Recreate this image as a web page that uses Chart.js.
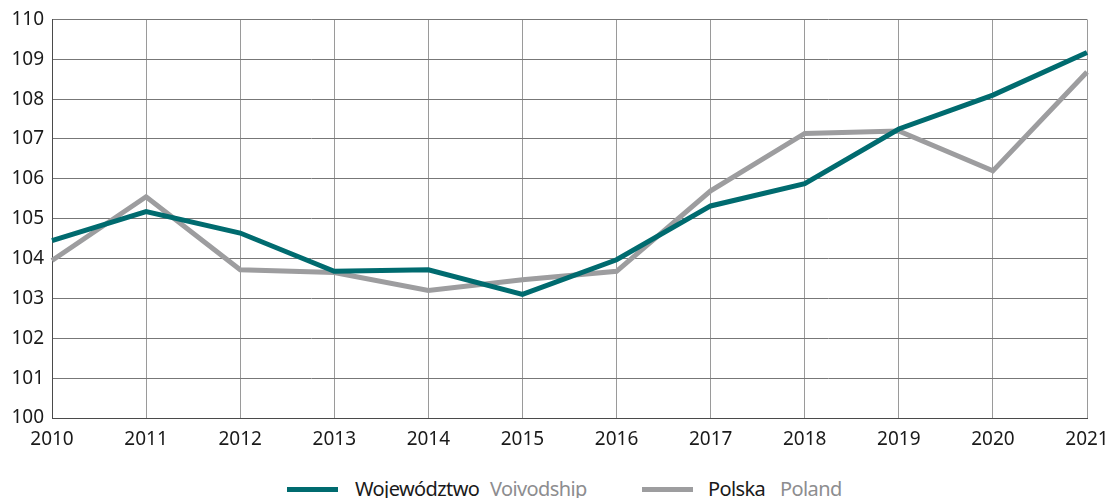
<!DOCTYPE html>
<html>
<head>
<meta charset="utf-8">
<script src="https://cdn.jsdelivr.net/npm/chart.js@4/dist/chart.umd.min.js"></script>
<style>
  html, body { margin: 0; padding: 0; background: #fff; overflow: hidden; }
  #wrap { position: relative; width: 1111px; height: 498px; }
  #chartBox { position: absolute; left: 0; top: 0; width: 1111px; height: 460px; }
  #legend { position: absolute; left: 0; top: 477px; width: 1111px; height: 24px; font-family: "Noto Sans", sans-serif; font-size: 20px; line-height: 24px; letter-spacing: -0.6px; }
  .swatch { position: absolute; top: 10px; width: 51px; height: 5px; }
  .txt { position: absolute; top: 0; white-space: nowrap; }
  .pl { color: #1a1a1a; }
  .en { color: #8d8d8f; }
</style>
</head>
<body>
<div id="wrap">
  <div id="chartBox"><canvas id="myChart"></canvas></div>
  <div id="legend"></div>
</div>
<script>
// Setup - years and the two series
const years = ['2010', '2011', '2012', '2013', '2014', '2015', '2016', '2017', '2018', '2019', '2020', '2021'];
const wojewodztwo = [104.45, 105.18, 104.64, 103.68, 103.72, 103.1, 103.97, 105.32, 105.88, 107.25, 108.1, 109.17];
const polska = [103.95, 105.55, 103.72, 103.65, 103.2, 103.47, 103.68, 105.7, 107.14, 107.2, 106.2, 108.68];
const seriesNames = [['Województwo', 'Voivodship'], ['Polska', 'Poland']];
const seriesColors = ['#006b6f', '#9d9d9f'];

const dataObj = {
    labels: years,
    datasets: [
        {
            label: seriesNames[0].join(' '),
            data: wojewodztwo,
            borderColor: seriesColors[0],
            borderWidth: 5,
            pointRadius: 0,
            tension: 0
        },
        {
            label: seriesNames[1].join(' '),
            data: polska,
            borderColor: seriesColors[1],
            borderWidth: 5,
            pointRadius: 0,
            tension: 0
        }
    ]
};

const tickFont = { family: '"Noto Sans", sans-serif', size: 19 };

var chartArea = document.getElementById('myChart');

const chartContent = new Chart(chartArea, {
    type: 'line',
    data: dataObj,
    options: {
        responsive: true,
        maintainAspectRatio: false,
        animation: false,
        layout: { padding: { top: 11, right: 0, bottom: 0, left: 0 } },
        plugins: {
            legend: { display: false },
            tooltip: { enabled: false }
        },
        scales: {
            x: {
                offset: false,
                afterFit: function (scale) {
                    scale.height = 42;
                    scale.paddingRight = 24;
                },
                grid: { color: '#9a9a9a', lineWidth: 1, drawTicks: false },
                border: { color: '#4a4a4a', width: 1 },
                ticks: { color: '#1a1a1a', font: tickFont, padding: 10, maxRotation: 0, autoSkip: false }
            },
            y: {
                min: 100,
                max: 110,
                afterFit: function (scale) { scale.width = 52; },
                grid: { color: '#777777', lineWidth: 1, drawTicks: false },
                border: { color: '#4a4a4a', width: 1 },
                ticks: { color: '#1a1a1a', font: tickFont, stepSize: 1, padding: 8 }
            }
        }
    }
});

// HTML legend: Polish name in dark text, English name in grey
const legendBox = document.getElementById('legend');
const swatchX = [287, 642];
const nameX = [[355, 490], [708, 780]];
seriesNames.forEach(function (names, i) {
    const sw = document.createElement('span');
    sw.className = 'swatch';
    sw.style.left = swatchX[i] + 'px';
    sw.style.background = seriesColors[i];
    legendBox.appendChild(sw);
    ['pl', 'en'].forEach(function (cls, j) {
        const t = document.createElement('span');
        t.className = 'txt ' + cls;
        t.style.left = nameX[i][j] + 'px';
        t.textContent = names[j];
        legendBox.appendChild(t);
    });
});
</script>
</body>
</html>
